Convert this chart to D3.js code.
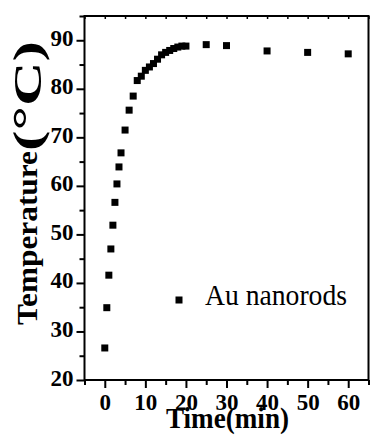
<!DOCTYPE html>
<html>
<head>
<meta charset="utf-8">
<script src="https://cdn.jsdelivr.net/npm/d3@7"></script>
<style>
  html, body { margin: 0; padding: 0; background: #fff; }
  svg { display: block; }
  svg text { font-family: "Liberation Serif", "Times New Roman", serif !important; fill: #000; }
</style>
</head>
<body>
<svg id="chart" width="370" height="437"></svg>
<script>
const timeMin = [0, 0.5, 1, 1.5, 2, 2.5, 3, 3.5, 4, 5, 6, 7, 8, 9, 10, 11, 12, 13, 14, 15, 16, 17, 18, 19, 20, 25, 30, 40, 50, 60];
const temperature = [26.6, 34.9, 41.6, 47.0, 51.9, 56.6, 60.4, 63.9, 66.8, 71.5, 75.6, 78.5, 81.7, 82.6, 83.8, 84.5, 85.2, 86.1, 87.0, 87.5, 87.9, 88.3, 88.6, 88.8, 88.8, 89.1, 88.9, 87.8, 87.5, 87.2];
const xTicks = [0, 10, 20, 30, 40, 50, 60];
const xMinor = [-5, 5, 15, 25, 35, 45, 55, 65];
const yTicks = [20, 30, 40, 50, 60, 70, 80, 90];
const yMinor = [25, 35, 45, 55, 65, 75, 85, 95];
const seriesName = "Au nanorods";
const xTitle = "Time(min)";
const yTitleMain = "Temperature";
const yTitleUnit = "(°C)";

(function () {
const svg = d3.select("#chart");
const FONT = "'Liberation Serif', 'Times New Roman', serif";
const L = 84.5, R = 368.5, T = 16, B = 380;
const x = d3.scaleLinear().domain([-5, 65]).range([L, R]);
const y = d3.scaleLinear().domain([20, 95]).range([B, T]);

// frame
svg.append("rect").attr("x", L).attr("y", T).attr("width", R - L).attr("height", B - T)
  .attr("fill", "none").attr("stroke", "#000").attr("stroke-width", 2);

// bottom axis
const gBottom = svg.append("g").attr("transform", `translate(0,${B})`);
gBottom.call(d3.axisBottom(x).tickValues(xTicks).tickSize(8).tickFormat(d3.format("d")));
gBottom.attr("font-family", null).attr("font-size", null);
gBottom.select(".domain").remove();
gBottom.selectAll(".tick line").attr("stroke-width", 2);
gBottom.selectAll(".tick text").style("font-family", FONT).style("font-size", "23px").style("font-weight", "bold")
  .attr("y", 30).attr("dy", 0);
const gBMinor = svg.append("g").attr("transform", `translate(0,${B})`);
gBMinor.call(d3.axisBottom(x).tickValues(xMinor).tickSize(5).tickFormat(""));
gBMinor.select(".domain").remove();
gBMinor.selectAll(".tick line").attr("stroke-width", 2);

// top axis (small inward ticks)
const gTop = svg.append("g").attr("transform", `translate(0,${T})`);
gTop.call(d3.axisTop(x).tickValues(xTicks.concat(xMinor)).tickSize(-3).tickFormat(""));
gTop.select(".domain").remove();
gTop.selectAll(".tick line").attr("stroke-width", 1.5);

// left axis
const gLeft = svg.append("g").attr("transform", `translate(${L},0)`);
gLeft.call(d3.axisLeft(y).tickValues(yTicks).tickSize(8).tickPadding(3).tickFormat(d3.format("d")));
gLeft.attr("font-family", null).attr("font-size", null);
gLeft.select(".domain").remove();
gLeft.selectAll(".tick line").attr("stroke-width", 2);
gLeft.selectAll(".tick text").style("font-family", FONT).style("font-size", "23px").style("font-weight", "bold")
  .attr("dy", 5);
const gLMinor = svg.append("g").attr("transform", `translate(${L},0)`);
gLMinor.call(d3.axisLeft(y).tickValues(yMinor).tickSize(5).tickFormat(""));
gLMinor.select(".domain").remove();
gLMinor.selectAll(".tick line").attr("stroke-width", 2);

// points
const s = 7;
svg.append("g").selectAll("rect").data(timeMin.map((t, i) => [t, temperature[i]]))
  .join("rect")
  .attr("x", d => x(d[0]) - s / 2).attr("y", d => y(d[1]) - s / 2)
  .attr("width", s).attr("height", s).attr("fill", "#000");

// legend
svg.append("rect").attr("x", 179 - s / 2).attr("y", 300 - s / 2).attr("width", s).attr("height", s).attr("fill", "#000");
svg.append("text").attr("x", 205).attr("y", 305).style("font-size", "30px")
  .attr("textLength", 142).attr("lengthAdjust", "spacingAndGlyphs").text(seriesName);

// x title
svg.append("text").attr("x", 166).attr("y", 428).style("font-size", "30px").style("font-weight", "bold")
  .attr("textLength", 123).attr("lengthAdjust", "spacingAndGlyphs").text(xTitle);

// y title
svg.append("text").attr("transform", "translate(37,325) rotate(-90)")
  .style("font-size", "30px").style("font-weight", "bold")
  .attr("textLength", 174).attr("lengthAdjust", "spacingAndGlyphs").text(yTitleMain);
svg.append("text").attr("transform", "translate(41,151) rotate(-90)")
  .style("font-size", "40px").style("font-weight", "bold")
  .attr("textLength", 110).attr("lengthAdjust", "spacingAndGlyphs")
  .text(yTitleUnit);
})();
</script>
</body>
</html>
